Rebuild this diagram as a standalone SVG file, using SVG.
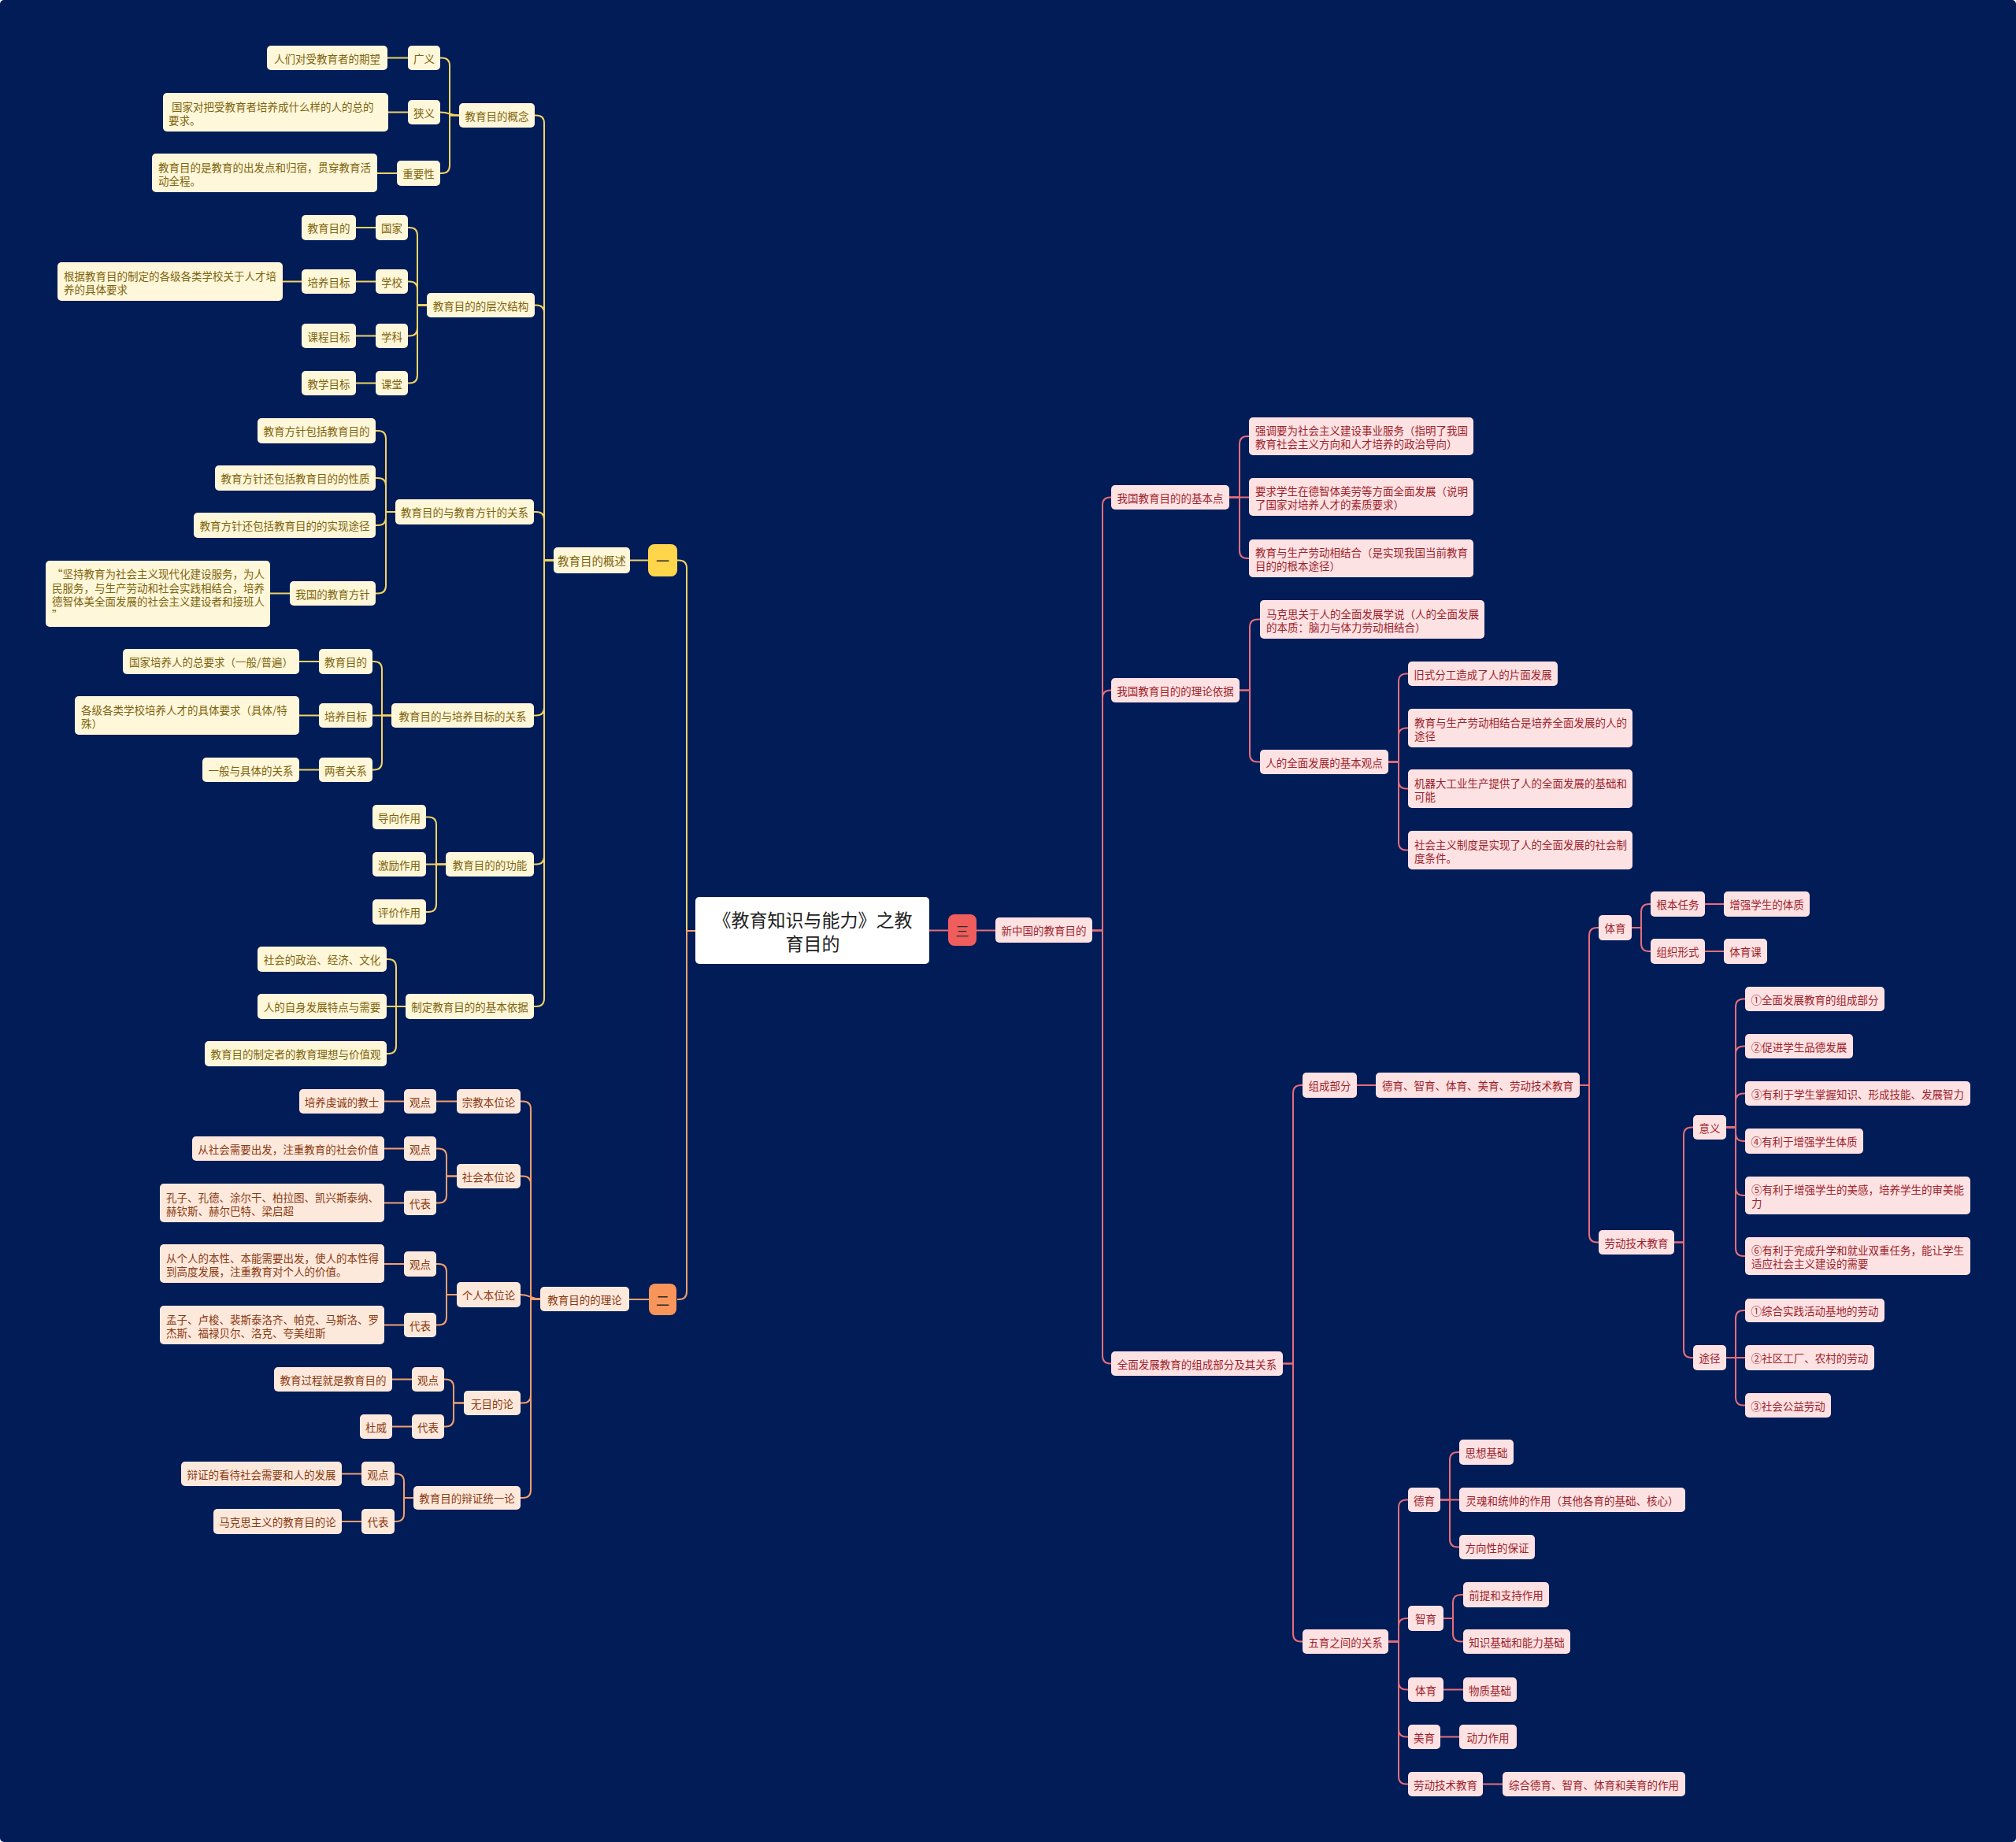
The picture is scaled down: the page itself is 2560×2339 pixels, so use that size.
<svg xmlns="http://www.w3.org/2000/svg" width="2560" height="2339" viewBox="0 0 2560 2339">
<style>
text{font-family:"Noto Sans CJK SC","Noto Sans",sans-serif;font-size:13.5px}
.m{text-anchor:middle;dominant-baseline:central}
.l{dominant-baseline:central}
.y rect{fill:#fff7d9}.y text{fill:#7d640e}
.o rect{fill:#fde9dc}.o text{fill:#8a3a12}
.r rect{fill:#fde2e3}.r text{fill:#9e1f2b}
rect{rx:5px;ry:5px}
.k rect{rx:8px;ry:8px}
.cn path{fill:none;stroke-width:2}
.cy path{stroke:#f1d462}
.co path{stroke:#f3a06c}
.cr path{stroke:#e46f78}
.k text{fill:#2b2b2b;font-size:17px}
</style>
<rect x="0" y="0" width="2560" height="2339" fill="#021c58" rx="0" ry="0"/>

<g id="connectors" class="cn">
<g class="cy">
<path d="M860 711.5 H862 Q872 711.5 872 721.5 V1182 H883" stroke-width="3"/>
<path d="M823 711.5 H800" stroke-width="3"/>
<path d="M678 146.5 H681 Q691 146.5 691 156.5 V711.5 H703"/>
<path d="M678 387.5 H681 Q691 387.5 691 397.5 V711.5 H703"/>
<path d="M678 650 H681 Q691 650 691 660 V711.5 H703"/>
<path d="M678 908.5 H681 Q691 908.5 691 898.5 V711.5 H703"/>
<path d="M678 1097.5 H681 Q691 1097.5 691 1087.5 V711.5 H703"/>
<path d="M678 1278 H681 Q691 1278 691 1268 V711.5 H703"/>
<path d="M559 73.5 H561 Q571 73.5 571 83.5 V146.5 H583"/>
<path d="M559 142.5 C571 142.5 571 146.5 583 146.5"/>
<path d="M559 220 H561 Q571 220 571 210 V146.5 H583"/>
<path d="M492 73.5 H518"/>
<path d="M493 142.5 H518"/>
<path d="M479 220 H504"/>
<path d="M518 289 H520 Q530 289 530 299 V387.5 H542"/>
<path d="M518 357.5 H520 Q530 357.5 530 367.5 V387.5 H542"/>
<path d="M518 426.5 H520 Q530 426.5 530 416.5 V387.5 H542"/>
<path d="M518 486.5 H520 Q530 486.5 530 476.5 V387.5 H542"/>
<path d="M452 289 H477"/>
<path d="M452 357.5 H477"/>
<path d="M359 357.5 H383"/>
<path d="M452 426.5 H477"/>
<path d="M452 486.5 H477"/>
<path d="M477 547 H480 Q490 547 490 557 V650 H502"/>
<path d="M477 607 H480 Q490 607 490 617 V650 H502"/>
<path d="M477 667 H480 Q490 667 490 657 V650 H502"/>
<path d="M477 753.5 H480 Q490 753.5 490 743.5 V650 H502"/>
<path d="M343 753.5 H368"/>
<path d="M473 840 H475 Q485 840 485 850 V908.5 H497"/>
<path d="M473 908.5 H497"/>
<path d="M473 977.5 H475 Q485 977.5 485 967.5 V908.5 H497"/>
<path d="M380 840 H405"/>
<path d="M380 908.5 H405"/>
<path d="M380 977.5 H405"/>
<path d="M541 1037.5 H544 Q554 1037.5 554 1047.5 V1097.5 H566"/>
<path d="M541 1097.5 H566"/>
<path d="M541 1158 H544 Q554 1158 554 1148 V1097.5 H566"/>
<path d="M491 1218 H493 Q503 1218 503 1228 V1278 H515"/>
<path d="M491 1278 H515"/>
<path d="M491 1338 H493 Q503 1338 503 1328 V1278 H515"/>
</g>
<g class="co">
<path d="M860 1650 H862 Q872 1650 872 1640 V1182 H883" stroke-width="3"/>
<path d="M824 1650 H799" stroke-width="3"/>
<path d="M661 1398.5 H664 Q674 1398.5 674 1408.5 V1649.5 H686"/>
<path d="M661 1493.5 H664 Q674 1493.5 674 1503.5 V1649.5 H686"/>
<path d="M661 1644 C674 1644 674 1649.5 686 1649.5"/>
<path d="M661 1781.5 H664 Q674 1781.5 674 1771.5 V1649.5 H686"/>
<path d="M661 1902 H664 Q674 1902 674 1892 V1649.5 H686"/>
<path d="M554 1398.5 H580"/>
<path d="M488 1398.5 H513"/>
<path d="M554 1458.5 H557 Q567 1458.5 567 1468.5 V1493.5 H580"/>
<path d="M554 1527.5 H557 Q567 1527.5 567 1517.5 V1493.5 H580"/>
<path d="M488 1458.5 H513"/>
<path d="M488 1527.5 H513"/>
<path d="M554 1605 H557 Q567 1605 567 1615 V1644 H580"/>
<path d="M554 1682.5 H557 Q567 1682.5 567 1672.5 V1644 H580"/>
<path d="M488 1605 H513"/>
<path d="M488 1682.5 H513"/>
<path d="M564 1751.5 H566 Q576 1751.5 576 1761.5 V1781.5 H589"/>
<path d="M564 1811.5 H566 Q576 1811.5 576 1801.5 V1781.5 H589"/>
<path d="M498 1751.5 H523"/>
<path d="M498 1811.5 H523"/>
<path d="M501 1871.5 H503 Q513 1871.5 513 1881.5 V1902 H525"/>
<path d="M501 1932 H503 Q513 1932 513 1922 V1902 H525"/>
<path d="M434 1871.5 H459"/>
<path d="M434 1932 H459"/>
</g>
<g class="cr">
<path d="M1180 1181.5 H1204" stroke-width="3"/>
<path d="M1240 1181.5 H1264" stroke-width="3"/>
<path d="M1411 631.5 H1410 Q1400 631.5 1400 641.5 V1181.5 H1387" stroke-width="2.5"/>
<path d="M1411 876.5 H1410 Q1400 876.5 1400 886.5 V1181.5 H1387" stroke-width="2.5"/>
<path d="M1411 1731.5 H1410 Q1400 1731.5 1400 1721.5 V1181.5 H1387" stroke-width="2.5"/>
<path d="M1586 554 H1584 Q1574 554 1574 564 V631.5 H1561"/>
<path d="M1586 631.5 H1561"/>
<path d="M1586 709 H1584 Q1574 709 1574 699 V631.5 H1561"/>
<path d="M1600 786.5 H1597 Q1587 786.5 1587 796.5 V876.5 H1574"/>
<path d="M1600 967.5 H1597 Q1587 967.5 1587 957.5 V876.5 H1574"/>
<path d="M1788 855.5 H1786 Q1776 855.5 1776 865.5 V967.5 H1763"/>
<path d="M1788 924.5 H1786 Q1776 924.5 1776 934.5 V967.5 H1763"/>
<path d="M1788 1001.5 H1786 Q1776 1001.5 1776 991.5 V967.5 H1763"/>
<path d="M1788 1079.5 H1786 Q1776 1079.5 1776 1069.5 V967.5 H1763"/>
<path d="M1654 1378 H1652 Q1642 1378 1642 1388 V1731.5 H1629"/>
<path d="M1654 2084.5 H1652 Q1642 2084.5 1642 2074.5 V1731.5 H1629"/>
<path d="M1723 1378 H1747"/>
<path d="M2030 1178 H2028 Q2018 1178 2018 1188 V1378 H2006"/>
<path d="M2030 1577.5 H2028 Q2018 1577.5 2018 1567.5 V1378 H2006"/>
<path d="M2096 1148 H2094 Q2084 1148 2084 1158 V1178 H2072"/>
<path d="M2096 1208 H2094 Q2084 1208 2084 1198 V1178 H2072"/>
<path d="M2165 1148 H2189"/>
<path d="M2165 1208 H2189"/>
<path d="M2150 1431.5 H2148 Q2138 1431.5 2138 1441.5 V1577.5 H2126"/>
<path d="M2150 1724 H2148 Q2138 1724 2138 1714 V1577.5 H2126"/>
<path d="M2216 1268.5 H2214 Q2204 1268.5 2204 1278.5 V1431.5 H2192"/>
<path d="M2216 1328.5 H2214 Q2204 1328.5 2204 1338.5 V1431.5 H2192"/>
<path d="M2216 1388.5 H2214 Q2204 1388.5 2204 1398.5 V1431.5 H2192"/>
<path d="M2216 1449 H2214 Q2204 1449 2204 1439 V1431.5 H2192"/>
<path d="M2216 1518 H2214 Q2204 1518 2204 1508 V1431.5 H2192"/>
<path d="M2216 1595 H2214 Q2204 1595 2204 1585 V1431.5 H2192"/>
<path d="M2216 1664 H2214 Q2204 1664 2204 1674 V1724 H2192"/>
<path d="M2216 1724 H2192"/>
<path d="M2216 1784.5 H2214 Q2204 1784.5 2204 1774.5 V1724 H2192"/>
<path d="M1788 1904.5 H1786 Q1776 1904.5 1776 1914.5 V2084.5 H1763"/>
<path d="M1788 2055 H1786 Q1776 2055 1776 2065 V2084.5 H1763"/>
<path d="M1788 2145.5 H1786 Q1776 2145.5 1776 2135.5 V2084.5 H1763"/>
<path d="M1788 2205.5 H1786 Q1776 2205.5 1776 2195.5 V2084.5 H1763"/>
<path d="M1788 2265.5 H1786 Q1776 2265.5 1776 2255.5 V2084.5 H1763"/>
<path d="M1853 1844 H1851 Q1841 1844 1841 1854 V1904.5 H1829"/>
<path d="M1853 1904.5 H1829"/>
<path d="M1853 1964.5 H1851 Q1841 1964.5 1841 1954.5 V1904.5 H1829"/>
<path d="M1858 2025 H1855 Q1845 2025 1845 2035 V2055 H1833"/>
<path d="M1858 2084.5 H1855 Q1845 2084.5 1845 2074.5 V2055 H1833"/>
<path d="M1833 2145.5 H1858"/>
<path d="M1829 2205.5 H1853"/>
<path d="M1883 2265.5 H1908"/>
</g>
</g>

<g id="root"><rect x="883" y="1139" width="297" height="85" rx="8" ry="8" fill="#ffffff"/><text x="1032" y="1167" class="m" style="font-size:23px;fill:#222">《教育知识与能力》之教</text><text x="1032" y="1197" class="m" style="font-size:23px;fill:#222">育目的</text></g>

<g id="b1" class="k"><rect x="823" y="691" width="37" height="41" fill="#ffd54c"/><text class="m" x="841.5" y="711.5">一</text></g>
<g id="b2" class="k"><rect x="824" y="1630" width="35" height="40" fill="#f7955a"/><text class="m" x="841.5" y="1650">二</text></g>
<g id="b3" class="k"><rect x="1204" y="1161" width="36" height="40" fill="#ef5d5d"/><text class="m" x="1222" y="1181">三</text></g>

<g id="y39" class="y"><rect x="703" y="695" width="97" height="33"/><text class="m" x="751.5" y="711.5" style="font-size:14.5px">教育目的概述</text></g>
<g id="y1" class="y"><rect x="339" y="58" width="153" height="31"/><text class="m" x="415.5" y="73.5">人们对受教育者的期望</text></g>
<g id="y2" class="y"><rect x="518" y="58" width="41" height="31"/><text class="m" x="538.5" y="73.5">广义</text></g>
<g id="y3" class="y"><rect x="207" y="118" width="286" height="49"/><text class="l"><tspan x="218" y="134.5">国家对把受教育者培养成什么样的人的总的</tspan><tspan x="214" y="151.5">要求。</tspan></text></g>
<g id="y4" class="y"><rect x="518" y="127" width="41" height="31"/><text class="m" x="538.5" y="142.5">狭义</text></g>
<g id="y5" class="y"><rect x="193" y="195" width="286" height="49"/><text class="l"><tspan x="201" y="211.5">教育目的是教育的出发点和归宿，贯穿教育活</tspan><tspan x="201" y="228.5">动全程。</tspan></text></g>
<g id="y6" class="y"><rect x="504" y="204" width="55" height="32"/><text class="m" x="531.5" y="220">重要性</text></g>
<g id="y7" class="y"><rect x="583" y="131" width="96" height="31"/><text class="m" x="631" y="146.5">教育目的概念</text></g>
<g id="y8" class="y"><rect x="383" y="273" width="69" height="32"/><text class="m" x="417.5" y="289">教育目的</text></g>
<g id="y9" class="y"><rect x="477" y="273" width="41" height="32"/><text class="m" x="497.5" y="289">国家</text></g>
<g id="y10" class="y"><rect x="73" y="333" width="286" height="49"/><text class="l"><tspan x="81" y="349.5">根据教育目的制定的各级各类学校关于人才培</tspan><tspan x="81" y="366.5">养的具体要求</tspan></text></g>
<g id="y11" class="y"><rect x="383" y="342" width="69" height="31"/><text class="m" x="417.5" y="357.5">培养目标</text></g>
<g id="y12" class="y"><rect x="477" y="342" width="41" height="31"/><text class="m" x="497.5" y="357.5">学校</text></g>
<g id="y13" class="y"><rect x="542" y="372" width="137" height="31"/><text class="m" x="610.5" y="387.5">教育目的的层次结构</text></g>
<g id="y14" class="y"><rect x="383" y="411" width="69" height="31"/><text class="m" x="417.5" y="426.5">课程目标</text></g>
<g id="y15" class="y"><rect x="477" y="411" width="41" height="31"/><text class="m" x="497.5" y="426.5">学科</text></g>
<g id="y16" class="y"><rect x="383" y="471" width="69" height="31"/><text class="m" x="417.5" y="486.5">教学目标</text></g>
<g id="y17" class="y"><rect x="477" y="471" width="41" height="31"/><text class="m" x="497.5" y="486.5">课堂</text></g>
<g id="y18" class="y"><rect x="327" y="531" width="150" height="32"/><text class="m" x="402" y="547">教育方针包括教育目的</text></g>
<g id="y19" class="y"><rect x="273" y="591" width="204" height="32"/><text class="m" x="375" y="607">教育方针还包括教育目的的性质</text></g>
<g id="y20" class="y"><rect x="246" y="651" width="231" height="32"/><text class="m" x="361.5" y="667">教育方针还包括教育目的的实现途径</text></g>
<g id="y21" class="y"><rect x="58" y="712" width="285" height="84"/><text class="l"><tspan x="66" y="728">“坚持教育为社会主义现代化建设服务，为人</tspan><tspan x="66" y="745.5">民服务，与生产劳动和社会实践相结合，培养</tspan><tspan x="66" y="763">德智体美全面发展的社会主义建设者和接班人</tspan><tspan x="66" y="780">”</tspan></text></g>
<g id="y22" class="y"><rect x="368" y="738" width="109" height="31"/><text class="m" x="422.5" y="753.5">我国的教育方针</text></g>
<g id="y23" class="y"><rect x="502" y="634" width="176" height="32"/><text class="m" x="590" y="650">教育目的与教育方针的关系</text></g>
<g id="y24" class="y"><rect x="156" y="824" width="224" height="32"/><text class="m" x="268" y="840">国家培养人的总要求（一般/普遍）</text></g>
<g id="y25" class="y"><rect x="405" y="824" width="68" height="32"/><text class="m" x="439" y="840">教育目的</text></g>
<g id="y26" class="y"><rect x="95" y="884" width="285" height="49"/><text class="l"><tspan x="103" y="900.5">各级各类学校培养人才的具体要求（具体/特</tspan><tspan x="103" y="917.5">殊）</tspan></text></g>
<g id="y27" class="y"><rect x="405" y="893" width="68" height="31"/><text class="m" x="439" y="908.5">培养目标</text></g>
<g id="y28" class="y"><rect x="497" y="893" width="181" height="31"/><text class="m" x="587.5" y="908.5">教育目的与培养目标的关系</text></g>
<g id="y29" class="y"><rect x="257" y="962" width="123" height="31"/><text class="m" x="318.5" y="977.5">一般与具体的关系</text></g>
<g id="y30" class="y"><rect x="405" y="962" width="68" height="31"/><text class="m" x="439" y="977.5">两者关系</text></g>
<g id="y31" class="y"><rect x="473" y="1022" width="68" height="31"/><text class="m" x="507" y="1037.5">导向作用</text></g>
<g id="y32" class="y"><rect x="473" y="1082" width="68" height="31"/><text class="m" x="507" y="1097.5">激励作用</text></g>
<g id="y33" class="y"><rect x="566" y="1082" width="112" height="31"/><text class="m" x="622" y="1097.5">教育目的的功能</text></g>
<g id="y34" class="y"><rect x="473" y="1142" width="68" height="32"/><text class="m" x="507" y="1158">评价作用</text></g>
<g id="y35" class="y"><rect x="327" y="1202" width="164" height="32"/><text class="m" x="409" y="1218">社会的政治、经济、文化</text></g>
<g id="y36" class="y"><rect x="327" y="1262" width="164" height="32"/><text class="m" x="409" y="1278">人的自身发展特点与需要</text></g>
<g id="y37" class="y"><rect x="515" y="1262" width="163" height="32"/><text class="m" x="596.5" y="1278">制定教育目的的基本依据</text></g>
<g id="y38" class="y"><rect x="260" y="1322" width="231" height="32"/><text class="m" x="375.5" y="1338">教育目的制定者的教育理想与价值观</text></g>

<g id="o1" class="o"><rect x="686" y="1634" width="113" height="31"/><text class="m" x="742.5" y="1649.5">教育目的的理论</text></g>
<g id="o2" class="o"><rect x="580" y="1383" width="81" height="31"/><text class="m" x="620.5" y="1398.5">宗教本位论</text></g>
<g id="o3" class="o"><rect x="513" y="1383" width="41" height="31"/><text class="m" x="533.5" y="1398.5">观点</text></g>
<g id="o4" class="o"><rect x="380" y="1383" width="108" height="31"/><text class="m" x="434" y="1398.5">培养虔诚的教士</text></g>
<g id="o5" class="o"><rect x="580" y="1478" width="81" height="31"/><text class="m" x="620.5" y="1493.5">社会本位论</text></g>
<g id="o6" class="o"><rect x="513" y="1443" width="41" height="31"/><text class="m" x="533.5" y="1458.5">观点</text></g>
<g id="o7" class="o"><rect x="244" y="1443" width="244" height="31"/><text class="m" x="366" y="1458.5">从社会需要出发，注重教育的社会价值</text></g>
<g id="o8" class="o"><rect x="513" y="1512" width="41" height="31"/><text class="m" x="533.5" y="1527.5">代表</text></g>
<g id="o9" class="o"><rect x="203" y="1503" width="285" height="49"/><text class="l"><tspan x="211" y="1519.5">孔子、孔德、涂尔干、柏拉图、凯兴斯泰纳、</tspan><tspan x="211" y="1536.5">赫钦斯、赫尔巴特、梁启超</tspan></text></g>
<g id="o10" class="o"><rect x="580" y="1628" width="81" height="32"/><text class="m" x="620.5" y="1644">个人本位论</text></g>
<g id="o11" class="o"><rect x="513" y="1589" width="41" height="32"/><text class="m" x="533.5" y="1605">观点</text></g>
<g id="o12" class="o"><rect x="203" y="1580" width="285" height="49"/><text class="l"><tspan x="211" y="1596.5">从个人的本性、本能需要出发，使人的本性得</tspan><tspan x="211" y="1613.5">到高度发展，注重教育对个人的价值。</tspan></text></g>
<g id="o13" class="o"><rect x="513" y="1667" width="41" height="31"/><text class="m" x="533.5" y="1682.5">代表</text></g>
<g id="o14" class="o"><rect x="203" y="1658" width="285" height="49"/><text class="l"><tspan x="211" y="1674.5">孟子、卢梭、裴斯泰洛齐、帕克、马斯洛、罗</tspan><tspan x="211" y="1691.5">杰斯、福禄贝尔、洛克、夸美纽斯</tspan></text></g>
<g id="o15" class="o"><rect x="589" y="1766" width="72" height="31"/><text class="m" x="625" y="1781.5">无目的论</text></g>
<g id="o16" class="o"><rect x="523" y="1736" width="41" height="31"/><text class="m" x="543.5" y="1751.5">观点</text></g>
<g id="o17" class="o"><rect x="348" y="1736" width="150" height="31"/><text class="m" x="423" y="1751.5">教育过程就是教育目的</text></g>
<g id="o18" class="o"><rect x="523" y="1796" width="41" height="31"/><text class="m" x="543.5" y="1811.5">代表</text></g>
<g id="o19" class="o"><rect x="457" y="1796" width="41" height="31"/><text class="m" x="477.5" y="1811.5">杜威</text></g>
<g id="o20" class="o"><rect x="525" y="1887" width="136" height="30"/><text class="m" x="593" y="1902">教育目的辩证统一论</text></g>
<g id="o21" class="o"><rect x="459" y="1856" width="42" height="31"/><text class="m" x="480" y="1871.5">观点</text></g>
<g id="o22" class="o"><rect x="230" y="1856" width="204" height="31"/><text class="m" x="332" y="1871.5">辩证的看待社会需要和人的发展</text></g>
<g id="o23" class="o"><rect x="459" y="1916" width="42" height="32"/><text class="m" x="480" y="1932">代表</text></g>
<g id="o24" class="o"><rect x="271" y="1916" width="163" height="32"/><text class="m" x="352.5" y="1932">马克思主义的教育目的论</text></g>

<g id="r1" class="r"><rect x="1264" y="1165" width="123" height="32"/><text class="m" x="1325.5" y="1181">新中国的教育目的</text></g>
<g id="r2" class="r"><rect x="1411" y="616" width="150" height="31"/><text class="m" x="1486" y="631.5">我国教育目的的基本点</text></g>
<g id="r3" class="r"><rect x="1586" y="530" width="285" height="48"/><text class="l"><tspan x="1594" y="546">强调要为社会主义建设事业服务（指明了我国</tspan><tspan x="1594" y="563">教育社会主义方向和人才培养的政治导向）</tspan></text></g>
<g id="r4" class="r"><rect x="1586" y="607" width="285" height="48"/><text class="l"><tspan x="1594" y="623">要求学生在德智体美劳等方面全面发展（说明</tspan><tspan x="1594" y="640">了国家对培养人才的素质要求）</tspan></text></g>
<g id="r5" class="r"><rect x="1586" y="685" width="285" height="48"/><text class="l"><tspan x="1594" y="701">教育与生产劳动相结合（是实现我国当前教育</tspan><tspan x="1594" y="718">目的的根本途径）</tspan></text></g>
<g id="r6" class="r"><rect x="1411" y="861" width="163" height="31"/><text class="m" x="1492.5" y="876.5">我国教育目的的理论依据</text></g>
<g id="r7" class="r"><rect x="1600" y="762" width="285" height="49"/><text class="l"><tspan x="1608" y="778.5">马克思关于人的全面发展学说（人的全面发展</tspan><tspan x="1608" y="795.5">的本质：脑力与体力劳动相结合）</tspan></text></g>
<g id="r8" class="r"><rect x="1600" y="952" width="163" height="31"/><text class="m" x="1681.5" y="967.5">人的全面发展的基本观点</text></g>
<g id="r9" class="r"><rect x="1788" y="840" width="190" height="31"/><text class="m" x="1883" y="855.5">旧式分工造成了人的片面发展</text></g>
<g id="r10" class="r"><rect x="1788" y="900" width="285" height="49"/><text class="l"><tspan x="1796" y="916.5">教育与生产劳动相结合是培养全面发展的人的</tspan><tspan x="1796" y="933.5">途径</tspan></text></g>
<g id="r11" class="r"><rect x="1788" y="977" width="285" height="49"/><text class="l"><tspan x="1796" y="993.5">机器大工业生产提供了人的全面发展的基础和</tspan><tspan x="1796" y="1010.5">可能</tspan></text></g>
<g id="r12" class="r"><rect x="1788" y="1055" width="285" height="49"/><text class="l"><tspan x="1796" y="1071.5">社会主义制度是实现了人的全面发展的社会制</tspan><tspan x="1796" y="1088.5">度条件。</tspan></text></g>
<g id="r13" class="r"><rect x="1411" y="1716" width="218" height="31"/><text class="m" x="1520" y="1731.5">全面发展教育的组成部分及其关系</text></g>
<g id="r14" class="r"><rect x="1654" y="1362" width="69" height="32"/><text class="m" x="1688.5" y="1378">组成部分</text></g>
<g id="r15" class="r"><rect x="1747" y="1362" width="259" height="32"/><text class="m" x="1876.5" y="1378">德育、智育、体育、美育、劳动技术教育</text></g>
<g id="r16" class="r"><rect x="2030" y="1162" width="42" height="32"/><text class="m" x="2051" y="1178">体育</text></g>
<g id="r17" class="r"><rect x="2096" y="1132" width="69" height="32"/><text class="m" x="2130.5" y="1148">根本任务</text></g>
<g id="r18" class="r"><rect x="2189" y="1132" width="109" height="32"/><text class="m" x="2243.5" y="1148">增强学生的体质</text></g>
<g id="r19" class="r"><rect x="2096" y="1192" width="69" height="32"/><text class="m" x="2130.5" y="1208">组织形式</text></g>
<g id="r20" class="r"><rect x="2189" y="1192" width="55" height="32"/><text class="m" x="2216.5" y="1208">体育课</text></g>
<g id="r21" class="r"><rect x="2030" y="1562" width="96" height="31"/><text class="m" x="2078" y="1577.5">劳动技术教育</text></g>
<g id="r22" class="r"><rect x="2150" y="1416" width="42" height="31"/><text class="m" x="2171" y="1431.5">意义</text></g>
<g id="r23" class="r"><rect x="2216" y="1253" width="177" height="31"/><text class="m" x="2304.5" y="1268.5">①全面发展教育的组成部分</text></g>
<g id="r24" class="r"><rect x="2216" y="1313" width="137" height="31"/><text class="m" x="2284.5" y="1328.5">②促进学生品德发展</text></g>
<g id="r25" class="r"><rect x="2216" y="1373" width="286" height="31"/><text class="m" x="2359" y="1388.5">③有利于学生掌握知识、形成技能、发展智力</text></g>
<g id="r26" class="r"><rect x="2216" y="1433" width="150" height="32"/><text class="m" x="2291" y="1449">④有利于增强学生体质</text></g>
<g id="r27" class="r"><rect x="2216" y="1494" width="286" height="48"/><text class="l"><tspan x="2224" y="1510">⑤有利于增强学生的美感，培养学生的审美能</tspan><tspan x="2224" y="1527">力</tspan></text></g>
<g id="r28" class="r"><rect x="2216" y="1571" width="286" height="48"/><text class="l"><tspan x="2224" y="1587">⑥有利于完成升学和就业双重任务，能让学生</tspan><tspan x="2224" y="1604">适应社会主义建设的需要</tspan></text></g>
<g id="r29" class="r"><rect x="2150" y="1708" width="42" height="32"/><text class="m" x="2171" y="1724">途径</text></g>
<g id="r30" class="r"><rect x="2216" y="1649" width="177" height="30"/><text class="m" x="2304.5" y="1664">①综合实践活动基地的劳动</text></g>
<g id="r31" class="r"><rect x="2216" y="1708" width="164" height="32"/><text class="m" x="2298" y="1724">②社区工厂、农村的劳动</text></g>
<g id="r32" class="r"><rect x="2216" y="1769" width="109" height="31"/><text class="m" x="2270.5" y="1784.5">③社会公益劳动</text></g>
<g id="r33" class="r"><rect x="1654" y="2069" width="109" height="31"/><text class="m" x="1708.5" y="2084.5">五育之间的关系</text></g>
<g id="r34" class="r"><rect x="1788" y="1889" width="41" height="31"/><text class="m" x="1808.5" y="1904.5">德育</text></g>
<g id="r35" class="r"><rect x="1853" y="1828" width="69" height="32"/><text class="m" x="1887.5" y="1844">思想基础</text></g>
<g id="r36" class="r"><rect x="1853" y="1889" width="287" height="31"/><text class="m" x="1996.5" y="1904.5">灵魂和统帅的作用（其他各育的基础、核心）</text></g>
<g id="r37" class="r"><rect x="1853" y="1949" width="96" height="31"/><text class="m" x="1901" y="1964.5">方向性的保证</text></g>
<g id="r38" class="r"><rect x="1788" y="2039" width="45" height="32"/><text class="m" x="1810.5" y="2055">智育</text></g>
<g id="r39" class="r"><rect x="1858" y="2009" width="109" height="32"/><text class="m" x="1912.5" y="2025">前提和支持作用</text></g>
<g id="r40" class="r"><rect x="1858" y="2069" width="136" height="31"/><text class="m" x="1926" y="2084.5">知识基础和能力基础</text></g>
<g id="r41" class="r"><rect x="1788" y="2130" width="45" height="31"/><text class="m" x="1810.5" y="2145.5">体育</text></g>
<g id="r42" class="r"><rect x="1858" y="2130" width="68" height="31"/><text class="m" x="1892" y="2145.5">物质基础</text></g>
<g id="r43" class="r"><rect x="1788" y="2190" width="41" height="31"/><text class="m" x="1808.5" y="2205.5">美育</text></g>
<g id="r44" class="r"><rect x="1853" y="2190" width="73" height="31"/><text class="m" x="1889.5" y="2205.5">动力作用</text></g>
<g id="r45" class="r"><rect x="1788" y="2250" width="95" height="31"/><text class="m" x="1835.5" y="2265.5">劳动技术教育</text></g>
<g id="r46" class="r"><rect x="1908" y="2250" width="232" height="31"/><text class="m" x="2024" y="2265.5">综合德育、智育、体育和美育的作用</text></g>
</svg>
